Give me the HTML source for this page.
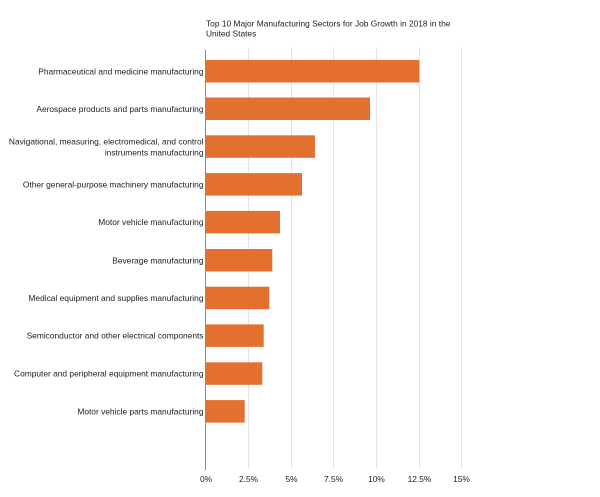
<!DOCTYPE html>
<html>
<head>
<meta charset="utf-8">
<style>
  html,body{margin:0;padding:0;background:#fff;}
  svg{display:block;}
  text{font-family:"Liberation Sans",Arial,sans-serif;font-size:8.4px;fill:#222;}
</style>
</head>
<body>
<svg width="600" height="497" viewBox="0 0 600 497" xmlns="http://www.w3.org/2000/svg">
  <rect width="600" height="497" fill="#fff"/>
  <!-- title -->
  <text x="206" y="26.7" fill="#111">Top 10 Major Manufacturing Sectors for Job Growth in 2018 in the</text>
  <text x="206" y="36.7" fill="#111">United States</text>

  <!-- gridlines -->
  <g stroke="#e3e3e3" stroke-width="1">
    <line x1="248.5" y1="47" x2="248.5" y2="469"/>
    <line x1="291.5" y1="47" x2="291.5" y2="469"/>
    <line x1="333.5" y1="47" x2="333.5" y2="469"/>
    <line x1="376.5" y1="47" x2="376.5" y2="469"/>
    <line x1="419.5" y1="47" x2="419.5" y2="469"/>
    <line x1="461.5" y1="47" x2="461.5" y2="469"/>
  </g>

  <!-- bars -->
  <g fill="#E4702F">
    <rect x="206" y="60" width="213.3" height="22.5"/>
    <rect x="206" y="97.5" width="164" height="22.5"/>
    <rect x="206" y="135.3" width="109" height="22.5"/>
    <rect x="206" y="173.1" width="96" height="22.5"/>
    <rect x="206" y="210.9" width="74" height="22.5"/>
    <rect x="206" y="249" width="66.3" height="22.5"/>
    <rect x="206" y="286.7" width="63.3" height="22.5"/>
    <rect x="206" y="324.4" width="57.7" height="22.5"/>
    <rect x="206" y="362.3" width="56.3" height="22.5"/>
    <rect x="206" y="400.1" width="38.7" height="22.5"/>
  </g>

  <!-- axis -->
  <line x1="205.5" y1="50" x2="205.5" y2="470" stroke="#8a8a8a" stroke-width="1"/>

  <!-- category labels -->
  <g text-anchor="end">
    <text x="203.5" y="74.3">Pharmaceutical and medicine manufacturing</text>
    <text x="203.5" y="111.8">Aerospace products and parts manufacturing</text>
    <text x="203.5" y="144.5">Navigational, measuring, electromedical, and control</text>
    <text x="203.5" y="155.5">instruments manufacturing</text>
    <text x="203.5" y="187.4">Other general-purpose machinery manufacturing</text>
    <text x="203.5" y="225.2">Motor vehicle manufacturing</text>
    <text x="203.5" y="263.3">Beverage manufacturing</text>
    <text x="203.5" y="301">Medical equipment and supplies manufacturing</text>
    <text x="203.5" y="338.7">Semiconductor and other electrical components</text>
    <text x="203.5" y="376.6">Computer and peripheral equipment manufacturing</text>
    <text x="203.5" y="414.4">Motor vehicle parts manufacturing</text>
  </g>

  <!-- tick labels -->
  <g text-anchor="middle" style="fill:#333">
    <text x="206" y="482">0%</text>
    <text x="248.5" y="482">2.5%</text>
    <text x="291.5" y="482">5%</text>
    <text x="333.5" y="482">7.5%</text>
    <text x="376.5" y="482">10%</text>
    <text x="419.5" y="482">12.5%</text>
    <text x="461.5" y="482">15%</text>
  </g>
</svg>
</body>
</html>
